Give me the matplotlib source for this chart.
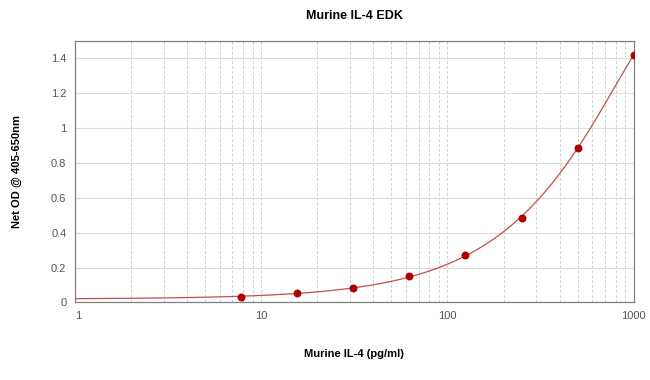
import numpy as np
import matplotlib
matplotlib.use('Agg')
import matplotlib.pyplot as plt
from matplotlib.ticker import FixedLocator, NullFormatter

# standard curve data
conc = np.array([7.8, 15.6, 31.25, 62.5, 125, 250, 500, 1000])
od = np.array([0.032, 0.052, 0.084, 0.15, 0.273, 0.485, 0.889, 1.42])

title = 'Murine IL-4 EDK'
xlabel = 'Murine IL-4 (pg/ml)'
ylabel = 'Net OD @ 405-650nm'
yticks = [0, 0.2, 0.4, 0.6, 0.8, 1, 1.2, 1.4]
ytick_labels = ['0', '0.2', '0.4', '0.6', '0.8', '1', '1.2', '1.4']
xticks = [1, 10, 100, 1000]

# quadratic fit of the standards (curve drawn from the fit)
coef = np.polyfit(conc, od, 2)
xf = np.logspace(0, 3, 300)
yf = np.polyval(coef, xf)

plt.rcParams['font.family'] = ['Liberation Sans', 'DejaVu Sans']

fig = plt.figure(figsize=(6.5, 3.8), dpi=100)
ax = fig.add_axes([0.115, 0.204, 0.86, 0.688])

ax.plot(xf, yf, color='#c0504d', lw=0.9, zorder=3)
ax.scatter(conc, od, color='#b00000', s=22, zorder=4)

ax.set_xscale('log')
ax.set_xlim(1, 1000)
ax.set_ylim(0, 1.5)

ax.set_yticks(yticks)
ax.set_yticklabels(ytick_labels)
ax.set_xticks(xticks)
ax.set_xticklabels([str(v) for v in xticks])
minors = [m * 10 ** d for d in range(3) for m in range(2, 10)]
ax.xaxis.set_minor_locator(FixedLocator(minors))
ax.xaxis.set_minor_formatter(NullFormatter())

ax.grid(axis='y', color='#dcdcdc', lw=0.8, ls='-')
ax.grid(axis='x', which='both', color='#d0d0d0', lw=0.7, ls=(0, (3, 2)))
ax.set_axisbelow(True)

ax.tick_params(axis='both', which='both', length=0, labelsize=8, labelcolor='#555555')
ax.tick_params(axis='x', pad=6)
ax.tick_params(axis='y', pad=6)
for lab in ax.get_xticklabels():
    lab.set_horizontalalignment('left' if lab.get_text() == '1' else 'center')
for s in ax.spines.values():
    s.set_color('#808080')
    s.set_linewidth(0.9)

ax.set_title(title, fontsize=9, fontweight='bold', pad=16)
ax.set_xlabel(xlabel, fontsize=8, fontweight='bold', labelpad=20)
ax.set_ylabel(ylabel, fontsize=8, fontweight='bold', labelpad=21)

fig.savefig('out.png', dpi=100)
